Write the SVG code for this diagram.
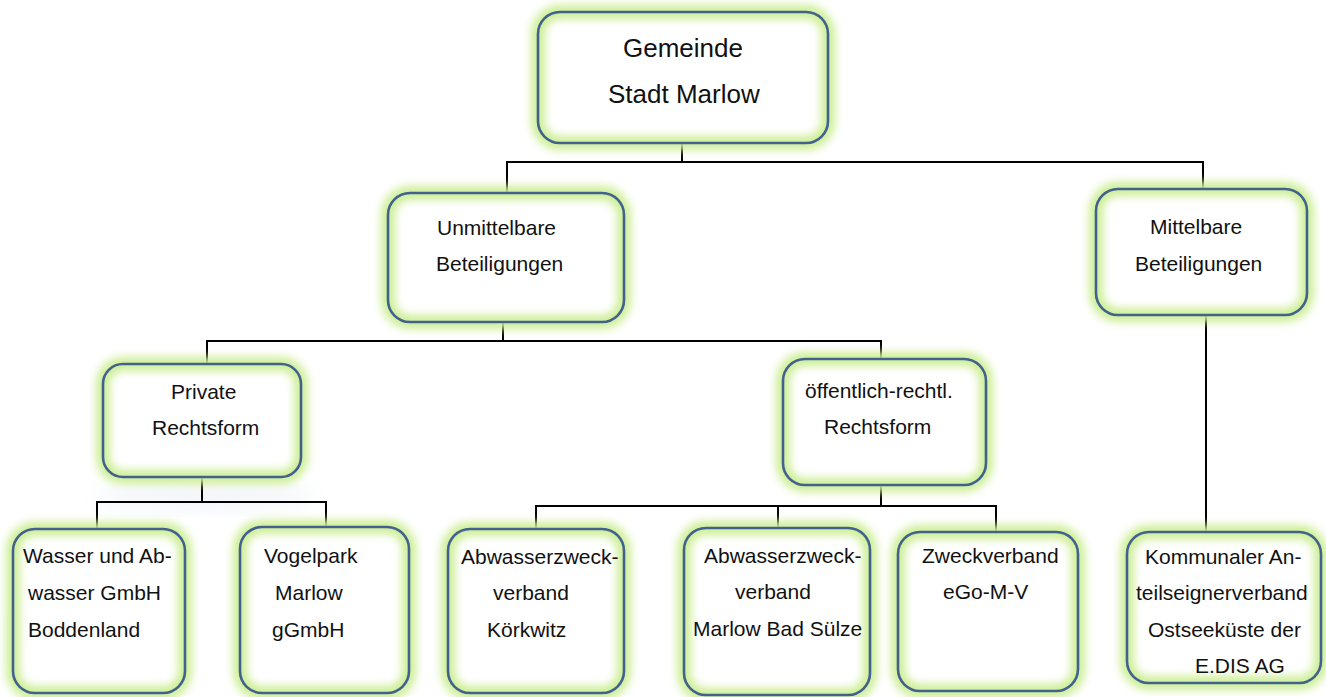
<svg xmlns="http://www.w3.org/2000/svg" width="1326" height="697" viewBox="0 0 1326 697">
<style>
.bg{fill:#ffffff}
.glow{fill:none;stroke:#cdee95;stroke-width:14;filter:url(#blur)}
.box{fill:none;stroke:#41618f;stroke-width:2.6}
.fill{fill:#ffffff}
.t{font-family:"Liberation Sans",Arial,sans-serif;font-size:21px;fill:#111111}
.big{font-size:26px}
.c line{stroke:#000000;stroke-width:2;stroke-linecap:square}
</style>
<defs>
<filter id="blur" x="-20%" y="-20%" width="140%" height="140%"><feGaussianBlur stdDeviation="4"/></filter>
<filter id="soft" x="-50%" y="-50%" width="200%" height="200%"><feGaussianBlur stdDeviation="10"/></filter>
</defs>
<rect class="bg" x="0" y="0" width="1326" height="697"/>
<ellipse cx="205" cy="497" rx="110" ry="10" fill="#e4eaf4" opacity="0.6" filter="url(#soft)"/>

<g id="connectors" class="c">
<line x1="682" y1="143" x2="682" y2="162"/>
<line x1="507" y1="162" x2="1203" y2="162"/>
<line x1="507" y1="162" x2="507" y2="193"/>
<line x1="1203" y1="162" x2="1203" y2="189"/>
<line x1="503" y1="322" x2="503" y2="341"/>
<line x1="207" y1="341" x2="881" y2="341"/>
<line x1="207" y1="341" x2="207" y2="364"/>
<line x1="881" y1="341" x2="881" y2="359"/>
<line x1="202" y1="477" x2="202" y2="502"/>
<line x1="97" y1="502" x2="326" y2="502"/>
<line x1="97" y1="502" x2="97" y2="529"/>
<line x1="326" y1="502" x2="326" y2="527"/>
<line x1="881" y1="485" x2="881" y2="506"/>
<line x1="536" y1="506" x2="996" y2="506"/>
<line x1="536" y1="506" x2="536" y2="529"/>
<line x1="778" y1="506" x2="778" y2="528"/>
<line x1="996" y1="506" x2="996" y2="532"/>
<line x1="1206" y1="315" x2="1206" y2="532"/>
</g>

<g id="gemeinde">
<rect class="fill" x="538" y="12" width="290" height="131" rx="22"/>
<rect class="glow" x="538" y="12" width="290" height="131" rx="22"/>
<rect class="box" x="538" y="12" width="290" height="131" rx="22"/>
<text class="t big" x="623" y="57">Gemeinde</text>
<text class="t big" x="608" y="103">Stadt Marlow</text>
</g>

<g id="unmittelbare">
<rect class="fill" x="388" y="193" width="236" height="129" rx="22"/>
<rect class="glow" x="388" y="193" width="236" height="129" rx="22"/>
<rect class="box" x="388" y="193" width="236" height="129" rx="22"/>
<text class="t" x="437" y="235">Unmittelbare</text>
<text class="t" x="436" y="271">Beteiligungen</text>
</g>

<g id="mittelbare">
<rect class="fill" x="1096" y="189" width="211" height="126" rx="22"/>
<rect class="glow" x="1096" y="189" width="211" height="126" rx="22"/>
<rect class="box" x="1096" y="189" width="211" height="126" rx="22"/>
<text class="t" x="1150" y="234">Mittelbare</text>
<text class="t" x="1135" y="271">Beteiligungen</text>
</g>

<g id="private">
<rect class="fill" x="103" y="364" width="198" height="113" rx="20"/>
<rect class="glow" x="103" y="364" width="198" height="113" rx="20"/>
<rect class="box" x="103" y="364" width="198" height="113" rx="20"/>
<text class="t" x="171" y="399">Private</text>
<text class="t" x="152" y="435">Rechtsform</text>
</g>

<g id="oeffentlich">
<rect class="fill" x="783" y="359" width="203" height="126" rx="22"/>
<rect class="glow" x="783" y="359" width="203" height="126" rx="22"/>
<rect class="box" x="783" y="359" width="203" height="126" rx="22"/>
<text class="t" x="805" y="398">öffentlich-rechtl.</text>
<text class="t" x="824" y="434">Rechtsform</text>
</g>

<g id="wasser">
<rect class="fill" x="13" y="529" width="172" height="164" rx="22"/>
<rect class="glow" x="13" y="529" width="172" height="164" rx="22"/>
<rect class="box" x="13" y="529" width="172" height="164" rx="22"/>
<text class="t" x="23" y="563">Wasser und Ab-</text>
<text class="t" x="28" y="600">wasser GmbH</text>
<text class="t" x="28" y="637">Boddenland</text>
</g>

<g id="vogelpark">
<rect class="fill" x="240" y="527" width="169" height="166" rx="22"/>
<rect class="glow" x="240" y="527" width="169" height="166" rx="22"/>
<rect class="box" x="240" y="527" width="169" height="166" rx="22"/>
<text class="t" x="264" y="563">Vogelpark</text>
<text class="t" x="275" y="600">Marlow</text>
<text class="t" x="272" y="637">gGmbH</text>
</g>

<g id="abwasser-koerkwitz">
<rect class="fill" x="448" y="529" width="176" height="164" rx="22"/>
<rect class="glow" x="448" y="529" width="176" height="164" rx="22"/>
<rect class="box" x="448" y="529" width="176" height="164" rx="22"/>
<text class="t" x="461" y="564">Abwasserzweck-</text>
<text class="t" x="493" y="600">verband</text>
<text class="t" x="487" y="637">Körkwitz</text>
</g>

<g id="abwasser-marlow">
<rect class="fill" x="684" y="528" width="186" height="167" rx="22"/>
<rect class="glow" x="684" y="528" width="186" height="167" rx="22"/>
<rect class="box" x="684" y="528" width="186" height="167" rx="22"/>
<text class="t" x="704" y="563">Abwasserzweck-</text>
<text class="t" x="735" y="599">verband</text>
<text class="t" x="693" y="636">Marlow Bad Sülze</text>
</g>

<g id="zweckverband">
<rect class="fill" x="898" y="532" width="180" height="159" rx="22"/>
<rect class="glow" x="898" y="532" width="180" height="159" rx="22"/>
<rect class="box" x="898" y="532" width="180" height="159" rx="22"/>
<text class="t" x="922" y="563">Zweckverband</text>
<text class="t" x="943" y="599">eGo-M-V</text>
</g>

<g id="kommunaler">
<rect class="fill" x="1127" y="532" width="194" height="151" rx="22"/>
<rect class="glow" x="1127" y="532" width="194" height="151" rx="22"/>
<rect class="box" x="1127" y="532" width="194" height="151" rx="22"/>
<text class="t" x="1145" y="564">Kommunaler An-</text>
<text class="t" x="1136" y="600">teilseignerverband</text>
<text class="t" x="1148" y="637">Ostseeküste der</text>
<text class="t" x="1195" y="673">E.DIS AG</text>
</g>
</svg>
